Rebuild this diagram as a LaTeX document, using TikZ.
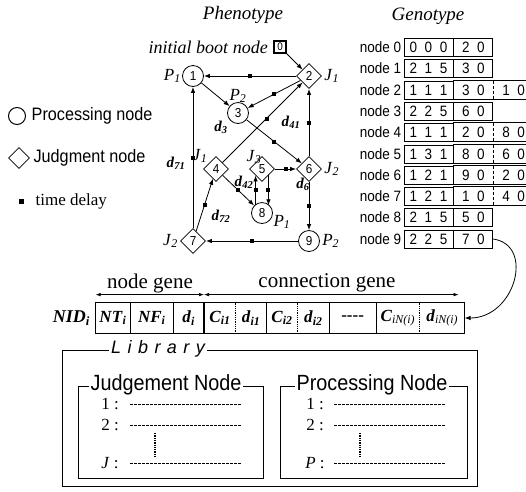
\documentclass[tikz,border=0pt]{standalone}
\usepackage{fontspec}
\setmainfont{Liberation Serif}
\newfontfamily\narrowsf[FakeStretch=0.9]{Liberation Sans}
\newfontfamily\spacedsf[LetterSpace=36]{Liberation Sans}
\usetikzlibrary{shapes.geometric, arrows.meta, positioning}

\newcommand{\fsz}[1]{\fontsize{#1}{#1}\selectfont}
\newcommand{\isub}[2]{\textit{#1}\textsubscript{\textit{#2}}}
\newcommand{\bsub}[2]{\textbf{\textit{#1}\textsubscript{\textit{#2}}}}

\begin{document}
\begin{tikzpicture}[x=1pt, y=-1pt, line width=0.8pt,
  >={Latex[length=6pt, width=4.5pt]},
  pnode/.style = {draw, circle, minimum size=21pt, inner sep=0pt, font=\narrowsf\fsz{13}},
  jnode/.style = {draw, diamond, minimum size=25pt, inner sep=0pt, font=\narrowsf\fsz{13}},
  tdot/.style = {fill, rectangle, minimum size=4pt, inner sep=0pt},
  plab/.style = {font=\fsz{17}, inner sep=1pt},
  dlab/.style = {font=\fsz{15}, inner sep=1pt},
  gbox/.style = {draw, minimum height=18pt, inner sep=0pt, font=\narrowsf\fsz{15}},
  gtxt/.style = {minimum height=18pt, inner sep=0pt, font=\narrowsf\fsz{15}},
  glab/.style = {font=\narrowsf\fsz{15}, inner sep=1pt},
  cell/.style = {minimum height=30pt, inner sep=0pt, font=\fsz{17}},
  libdash/.style = {dash pattern=on 2.5pt off 1.5pt, line width=0.7pt},
  libtitle/.style = {fill=white, inner sep=2pt, font=\narrowsf\fsz{22}}]
\useasboundingbox (0,0) rectangle (526,491);

% phenotype
\node[font=\fsz{19}\itshape] (phen) at (243,15) {Phenotype};
\node[draw, line width=1.1pt, minimum size=12pt, inner sep=0pt, font=\narrowsf\fsz{11}] (g0) at (280,47) {0};
\node[font=\fsz{18}\itshape, left=2pt of g0] (boot) {initial boot node};
\node[pnode] (g1) at (193,76) {1};
\node[jnode] (g2) at (309,76) {2};
\node[pnode] (g3) at (238,113) {3};
\node[jnode] (g4) at (216,169) {4};
\node[jnode] (g5) at (262,169) {5};
\node[jnode] (g6) at (309,169) {6};
\node[jnode] (g7) at (193,241) {7};
\node[pnode] (g8) at (262,213) {8};
\node[pnode] (g9) at (309,241) {9};

\node[plab, left=0pt of g1] {\isub{P}{1}};
\node[plab, right=1pt of g2] {\isub{J}{1}};
\node[plab, above=-2pt of g3] {\isub{P}{2}};
\node[dlab] at (221,127) {\bsub{d}{3}};
\node[dlab] at (291,122) {\bsub{d}{41}};
\node[plab] at (200,156) {\isub{J}{1}};
\node[plab] at (254,157) {\isub{J}{3}};
\node[plab, right=1pt of g6] {\isub{J}{2}};
\node[dlab] at (303,184) {\bsub{d}{6}};
\node[dlab] at (244,182) {\bsub{d}{42}};
\node[dlab] at (221,216) {\bsub{d}{72}};
\node[dlab] at (176,163) {\bsub{d}{71}};
\node[plab] at (282,222) {\isub{P}{1}};
\node[plab, right=1pt of g9] {\isub{P}{2}};
\node[plab, left=1pt of g7] {\isub{J}{2}};

\draw[->] (g0) -- (g2);
\draw[->] (g2) -- node[tdot]{} (g1);
\draw[->] (g1) -- (g3);
\draw[->] (g2) -- node[tdot]{} (g3);
\draw[->] (g3) -- node[tdot]{} (g6);
\draw[->] (g4) -- node[tdot, pos=.55]{} (g2);
\draw[->] (g6) -- node[tdot]{} (g2);
\draw[->] (g6) -- node[tdot]{} (g9);
\draw[->] (g9) -- node[tdot]{} (g7);
\draw[->] (g7) -- node[tdot]{} (g1);
\draw[->] (g7) -- node[tdot]{} (g4);
\draw[->] (g4) -- node[tdot]{} (g8);
\draw[->] (g5) -- node[tdot]{} (g6);
\draw[->] (g5.south east) -- node[tdot]{} (g5.south east |- g8.north east);
\draw[->] (g5.south west |- g8.north west) -- node[tdot]{} (g5.south west);

% legend
\node[draw, circle, minimum size=17pt, inner sep=0pt, line width=1pt] (lgp) at (17,116) {};
\node[font=\narrowsf\fsz{18}, right=2pt of lgp] (lgptxt) {Processing node};
\node[draw, diamond, minimum size=21pt, inner sep=0pt] (lgj) at (19,158) {};
\node[font=\narrowsf\fsz{18}, right=0pt of lgj] (lgjtxt) {Judgment node};
\node[tdot, minimum size=5pt] (lgd) at (21,201) {};
\node[font=\fsz{17}, right=8pt of lgd] (lgdtxt) {time delay};

% genotype
\node[font=\fsz{19}\itshape] (gen) at (428,16) {Genotype};

\node[gbox, minimum width=49pt] (r0a) at (428.5,47) {0~~0~~0};
\node[gbox, minimum width=39pt, right=0pt of r0a] (r0b) {2~~0};
\node[glab, left=1pt of r0a] {node 0};

\node[gbox, minimum width=49pt] (r1a) at (428.5,68) {2~~1~~5};
\node[gbox, minimum width=39pt, right=0pt of r1a] (r1b) {3~~0};
\node[glab, left=1pt of r1a] {node 1};

\node[gbox, minimum width=49pt] (r2a) at (428.5,90) {1~~1~~1};
\node[gtxt, minimum width=39pt, right=0pt of r2a] (r2b) {3~~0};
\node[gtxt, minimum width=40pt, right=0pt of r2b] (r2c) {1~~0};
\draw (r2a.north east) -- (r2c.north east) (r2a.south east) -- (r2c.south east);
\draw[densely dashed, line width=0.6pt] (r2b.north east) -- (r2b.south east);
\node[glab, left=1pt of r2a] {node 2};

\node[gbox, minimum width=49pt] (r3a) at (428.5,111) {2~~2~~5};
\node[gbox, minimum width=39pt, right=0pt of r3a] (r3b) {6~~0};
\node[glab, left=1pt of r3a] {node 3};

\node[gbox, minimum width=49pt] (r4a) at (428.5,132) {1~~1~~1};
\node[gtxt, minimum width=39pt, right=0pt of r4a] (r4b) {2~~0};
\node[gtxt, minimum width=40pt, right=0pt of r4b] (r4c) {8~~0};
\draw (r4a.north east) -- (r4c.north east) (r4a.south east) -- (r4c.south east);
\draw[densely dashed, line width=0.6pt] (r4b.north east) -- (r4b.south east);
\node[glab, left=1pt of r4a] {node 4};

\node[gbox, minimum width=49pt] (r5a) at (428.5,154) {1~~3~~1};
\node[gtxt, minimum width=39pt, right=0pt of r5a] (r5b) {8~~0};
\node[gtxt, minimum width=40pt, right=0pt of r5b] (r5c) {6~~0};
\draw (r5a.north east) -- (r5c.north east) (r5a.south east) -- (r5c.south east);
\draw[densely dashed, line width=0.6pt] (r5b.north east) -- (r5b.south east);
\node[glab, left=1pt of r5a] {node 5};

\node[gbox, minimum width=49pt] (r6a) at (428.5,175) {1~~2~~1};
\node[gtxt, minimum width=39pt, right=0pt of r6a] (r6b) {9~~0};
\node[gtxt, minimum width=40pt, right=0pt of r6b] (r6c) {2~~0};
\draw (r6a.north east) -- (r6c.north east) (r6a.south east) -- (r6c.south east);
\draw[densely dashed, line width=0.6pt] (r6b.north east) -- (r6b.south east);
\node[glab, left=1pt of r6a] {node 6};

\node[gbox, minimum width=49pt] (r7a) at (428.5,196) {1~~2~~1};
\node[gtxt, minimum width=39pt, right=0pt of r7a] (r7b) {1~~0};
\node[gtxt, minimum width=40pt, right=0pt of r7b] (r7c) {4~~0};
\draw (r7a.north east) -- (r7c.north east) (r7a.south east) -- (r7c.south east);
\draw[densely dashed, line width=0.6pt] (r7b.north east) -- (r7b.south east);
\node[glab, left=1pt of r7a] {node 7};

\node[gbox, minimum width=49pt] (r8a) at (428.5,217) {2~~1~~5};
\node[gbox, minimum width=39pt, right=0pt of r8a] (r8b) {5~~0};
\node[glab, left=1pt of r8a] {node 8};

\node[gbox, minimum width=49pt] (r9a) at (428.5,239) {2~~2~~5};
\node[gbox, minimum width=39pt, right=0pt of r9a] (r9b) {7~~0};
\node[glab, left=1pt of r9a] {node 9};

% chromosome
\node[cell, minimum width=34pt] (nt) at (113,318) {\bsub{NT}{i}};
\node[cell, minimum width=42pt, right=0pt of nt] (nf) {\bsub{NF}{i}};
\node[cell, minimum width=30pt, right=0pt of nf] (di) {\bsub{d}{i}};
\node[cell, minimum width=31pt, right=0pt of di] (c1) {\bsub{C}{i1}};
\node[cell, minimum width=30pt, right=0pt of c1] (d1) {\bsub{d}{i1}};
\node[cell, minimum width=30pt, right=0pt of d1] (c2) {\bsub{C}{i2}};
\node[cell, minimum width=31pt, right=0pt of c2] (d2) {\bsub{d}{i2}};
\node[cell, minimum width=46pt, right=0pt of d2] (dd) {\textbf{-{}-{}-{}-}};
\node[cell, minimum width=43pt, right=0pt of dd] (cn) {\textbf{\textit{C}}\textsubscript{\textit{iN(i)}}};
\node[cell, minimum width=44pt, right=0pt of cn] (dn) {\textbf{\textit{d}}\textsubscript{\textit{iN(i)}}};
\node[font=\fsz{18}, left=2pt of nt] (nid) {\bsub{NID}{i}};

\draw[line width=1pt] (nt.north west) rectangle (dn.south east);
\draw (nt.north east) -- (nt.south east);
\draw (nf.north east) -- (nf.south east);
\draw[line width=1.6pt] (di.north east) -- (di.south east);
\draw[densely dotted] (c1.north east) -- (c1.south east);
\draw (d1.north east) -- (d1.south east);
\draw[densely dotted] (c2.north east) -- (c2.south east);
\draw (d2.north east) -- (d2.south east);
\draw (dd.north east) -- (dd.south east);
\draw[densely dotted] (cn.north east) -- (cn.south east);

\node[font=\fsz{21}] (ng) at (150,283) {node gene};
\node[font=\fsz{21}] (cg) at (327,283) {connection gene};
\draw[<->, line width=0.6pt, >={Latex[length=5pt, width=3.5pt]}] ([yshift=8pt]nt.north west) -- ([yshift=8pt]di.north east);
\draw[<->, line width=0.6pt, >={Latex[length=5pt, width=3.5pt]}] ([yshift=8pt]di.north east) -- ([xshift=-6pt, yshift=8pt]dn.north east);

\draw[->] (r9b.east) .. controls (535,245) and (515,318) .. (dn.east);

% library
\draw[line width=1pt] (62,350) rectangle (477,486);
\node[fill=white, inner sep=2pt, font=\spacedsf\itshape\fsz{18}] (lib) at (158,349) {Library};

\draw (78,386) rectangle (263,478);
\node[libtitle] (jtitle) at (166,385) {Judgement Node};
\node[font=\fsz{17}] (j1) at (110,404) {1 :};
\node[font=\fsz{17}] (j2) at (110,425) {2 :};
\node[font=\fsz{17}] (jj) at (110,463) {\textit{J} :};
\draw[libdash] (130,404) -- (242,404);
\draw[libdash] (130,425) -- (242,425);
\draw[libdash] (130,463) -- (242,463);
\draw[densely dotted, line width=1.3pt] (155,433) -- (155,458);

\draw (280,386) rectangle (467,478);
\node[libtitle] (ptitle) at (372,385) {Processing Node};
\node[font=\fsz{17}] (p1) at (315,404) {1 :};
\node[font=\fsz{17}] (p2) at (315,425) {2 :};
\node[font=\fsz{17}] (pp) at (315,463) {\textit{P} :};
\draw[libdash] (334,404) -- (446,404);
\draw[libdash] (334,425) -- (446,425);
\draw[libdash] (334,463) -- (446,463);
\draw[densely dotted, line width=1.3pt] (360,433) -- (360,458);
\end{tikzpicture}
\end{document}
